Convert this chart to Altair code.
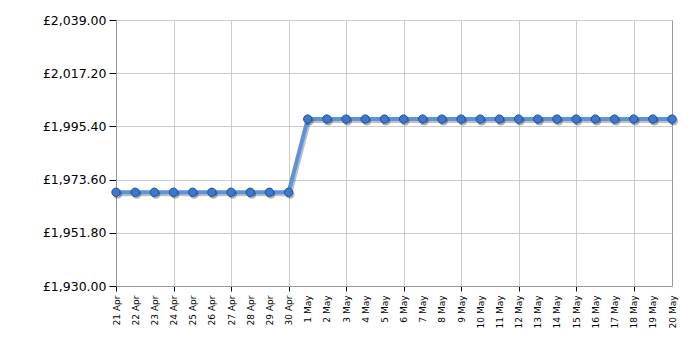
import altair as alt
import pandas as pd

dates = ["21 Apr", "22 Apr", "23 Apr", "24 Apr", "25 Apr", "26 Apr", "27 Apr", "28 Apr", "29 Apr", "30 Apr",
         "1 May", "2 May", "3 May", "4 May", "5 May", "6 May", "7 May", "8 May", "9 May", "10 May",
         "11 May", "12 May", "13 May", "14 May", "15 May", "16 May", "17 May", "18 May", "19 May", "20 May"]
prices = [1968.4] * 10 + [1998.4] * 20
y_ticks = [1930.0, 1951.8, 1973.6, 1995.4, 2017.2, 2039.0]
grid_dates = ["21 Apr", "24 Apr", "27 Apr", "30 Apr", "3 May", "6 May", "9 May", "12 May", "15 May", "18 May"]

df = pd.DataFrame({"date": dates, "price": prices})

grid_test = "indexof(" + str(grid_dates).replace('"', "'") + ", datum.value) >= 0"

x_enc = alt.X("date:N", sort=dates,
              scale=alt.Scale(type="point", padding=0),
              axis=alt.Axis(title=None, labelAngle=-90, labelFontSize=9, labelFont="DejaVu Sans",
                            labelColor="#000", labelPadding=4,
                            domainColor="#999", tickColor="#000", tickSize=5,
                            tickOpacity={"condition": {"test": grid_test, "value": 1}, "value": 0},
                            grid=True, gridColor="#ccc",
                            gridOpacity={"condition": {"test": grid_test, "value": 1}, "value": 0}))
y_enc = alt.Y("price:Q", scale=alt.Scale(domain=[1930, 2039], nice=False, zero=False),
              axis=alt.Axis(title=None, values=y_ticks,
                            labelExpr="'£' + format(datum.value, ',.2f')",
                            labelFontSize=12.5, labelFont="DejaVu Sans", labelColor="#000",
                            labelPadding=3, domainColor="#999", tickColor="#000", tickSize=7,
                            grid=True, gridColor="#ccc"))

base = alt.Chart(df)
shadow = base.mark_line(color="#000", opacity=0.25, strokeWidth=4, xOffset=1.5, yOffset=2).encode(
    x=x_enc, y=y_enc)
line = base.mark_line(color="#5b93dd", strokeWidth=4).encode(x=x_enc, y=y_enc)
pshadow = base.mark_circle(size=80, color="#000", opacity=0.3, xOffset=1.5, yOffset=2).encode(x=x_enc, y=y_enc)
points = base.mark_point(shape="circle", size=70, filled=True, fill="#3c78d0", stroke="#24528f",
                         strokeWidth=1, opacity=1).encode(x=x_enc, y=y_enc)

chart = alt.layer(shadow, line, pshadow, points).properties(
    width=556, height=266,
    autosize=alt.AutoSizeParams(type="none"),
    padding={"left": 116, "top": 20, "right": 28, "bottom": 64},
).configure_view(stroke="#999", strokeWidth=1)

chart.save("out.html", embed_options={"renderer": "svg", "actions": False})
